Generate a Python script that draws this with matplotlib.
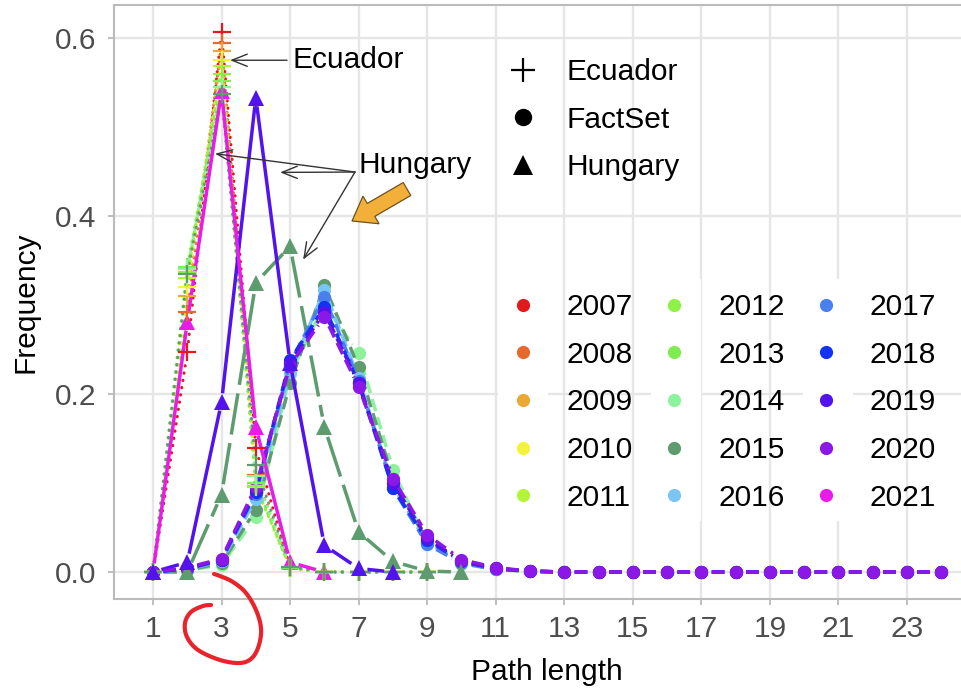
import numpy as np
import matplotlib
matplotlib.use("Agg")
import matplotlib.pyplot as plt
from matplotlib.lines import Line2D
from matplotlib.patches import Rectangle, FancyArrow
from matplotlib.transforms import IdentityTransform

# ---------------- data ----------------
years = list(range(2007, 2022))
year_colors = ['#E3191C', '#E5692D', '#EAA935', '#F3F33B', '#B3F43B',
               '#8DF243', '#7FED4F', '#8CF29B', '#5E9B6E', '#79C6F5',
               '#4A7FEE', '#1432F3', '#5213EE', '#8B18E6', '#E81CE8']

x_ticks = [1, 3, 5, 7, 9, 11, 13, 15, 17, 19, 21, 23]
x_tick_labels = ['1', '3', '5', '7', '9', '11', '13', '15', '17', '19', '21', '23']
y_ticks = [0.0, 0.2, 0.4, 0.6]
y_tick_labels = ['0.0', '0.2', '0.4', '0.6']

# Ecuador (path length 1..9)
ecu_x = [1, 2, 3, 4, 5, 6, 7, 8, 9]
ecu_2007 = [0.0, 0.247, 0.607, 0.139, 0.004, 0.0, 0.0, 0.0, 0.0]
ecu_2008 = [0.0, 0.292, 0.594, 0.109, 0.004, 0.0, 0.0, 0.0, 0.0]
ecu_2009 = [0.0, 0.310, 0.585, 0.100, 0.004, 0.0, 0.0, 0.0, 0.0]
ecu_2010 = [0.0, 0.320, 0.575, 0.100, 0.004, 0.0, 0.0, 0.0, 0.0]
ecu_2011 = [0.0, 0.330, 0.568, 0.096, 0.005, 0.0, 0.0, 0.0, 0.0]
ecu_2012 = [0.0, 0.337, 0.560, 0.097, 0.005, 0.0, 0.0, 0.0, 0.0]
ecu_2013 = [0.0, 0.343, 0.552, 0.100, 0.005, 0.0, 0.0, 0.0, 0.0]
ecu_2014 = [0.0, 0.340, 0.545, 0.108, 0.006, 0.0, 0.0, 0.0, 0.0]
ecu_2015 = [0.0, 0.335, 0.537, 0.120, 0.006, 0.0, 0.0, 0.0, 0.0]

# FactSet (path length 1..24)
fs_x = list(range(1, 25))
fs_2014 = [0.0, 0.002, 0.008, 0.062, 0.222, 0.300, 0.246, 0.115, 0.033, 0.009, 0.003, 0.001,
           0, 0, 0, 0, 0, 0, 0, 0, 0, 0, 0, 0]
fs_2015 = [0.0, 0.002, 0.010, 0.070, 0.212, 0.322, 0.230, 0.105, 0.034, 0.011, 0.003, 0.001,
           0, 0, 0, 0, 0, 0, 0, 0, 0, 0, 0, 0]
fs_2016 = [0.0, 0.003, 0.012, 0.082, 0.225, 0.317, 0.218, 0.097, 0.032, 0.011, 0.003, 0.001,
           0, 0, 0, 0, 0, 0, 0, 0, 0, 0, 0, 0]
fs_2017 = [0.0, 0.003, 0.013, 0.088, 0.235, 0.309, 0.215, 0.094, 0.031, 0.010, 0.003, 0.001,
           0, 0, 0, 0, 0, 0, 0, 0, 0, 0, 0, 0]
fs_2018 = [0.0, 0.004, 0.014, 0.090, 0.238, 0.298, 0.212, 0.094, 0.036, 0.012, 0.004, 0.001,
           0, 0, 0, 0, 0, 0, 0, 0, 0, 0, 0, 0]
fs_2019 = [0.0, 0.004, 0.014, 0.093, 0.235, 0.292, 0.212, 0.100, 0.038, 0.012, 0.004, 0.001,
           0, 0, 0, 0, 0, 0, 0, 0, 0, 0, 0, 0]
fs_2020 = [0.0, 0.005, 0.015, 0.096, 0.232, 0.287, 0.208, 0.105, 0.042, 0.014, 0.005, 0.001,
           0, 0, 0, 0, 0, 0, 0, 0, 0, 0, 0, 0]

# Hungary
hun_2015_x = [1, 2, 3, 4, 5, 6, 7, 8, 9, 10]
hun_2015 = [0.0, 0.0, 0.087, 0.325, 0.366, 0.163, 0.045, 0.012, 0.001, 0.0]
hun_2019_x = [1, 2, 3, 4, 5, 6, 7, 8]
hun_2019 = [0.0, 0.011, 0.191, 0.533, 0.235, 0.030, 0.004, 0.0]
hun_2021_x = [1, 2, 3, 4, 5, 6]
hun_2021 = [0.0, 0.281, 0.540, 0.163, 0.011, 0.0]

sources = ['Ecuador', 'FactSet', 'Hungary']

# ---------------- tables built from the lists ----------------
ecuador = {2007: ecu_2007, 2008: ecu_2008, 2009: ecu_2009, 2010: ecu_2010, 2011: ecu_2011,
           2012: ecu_2012, 2013: ecu_2013, 2014: ecu_2014, 2015: ecu_2015}
factset = {2014: fs_2014, 2015: fs_2015, 2016: fs_2016, 2017: fs_2017,
           2018: fs_2018, 2019: fs_2019, 2020: fs_2020}
hungary = {2015: (hun_2015_x, hun_2015), 2019: (hun_2019_x, hun_2019),
           2021: (hun_2021_x, hun_2021)}
hungary_ls = {2015: (0, (12.0, 2.5)), 2019: '-', 2021: '-'}

# ---------------- figure ----------------
W, H = 962, 689
DPI = 100
plt.rcParams['font.family'] = ['Liberation Sans', 'DejaVu Sans']
FS = 21.5

fig = plt.figure(figsize=(W / DPI, H / DPI), dpi=DPI)
fig.patch.set_facecolor('white')

X0, X1 = -0.15, 25.15
Y0, Y1 = -0.0304, 0.6374
left_px, right_px = 113.6, 980.6
top_px, bot_px = 4.7, 599.1
ax = fig.add_axes([left_px / W, 1 - bot_px / H, (right_px - left_px) / W, (bot_px - top_px) / H])
ax.set_xlim(X0, X1)
ax.set_ylim(Y0, Y1)
ax.set_facecolor('white')

ax.set_xticks(x_ticks)
ax.set_xticklabels(x_tick_labels)
ax.set_yticks(y_ticks)
ax.set_yticklabels(y_tick_labels)
ax.set_axisbelow(True)
ax.grid(True, color='#E6E6E6', lw=1.7)
for s in ax.spines.values():
    s.set_color('#BBBBBB')
    s.set_linewidth(1.5)
ax.tick_params(axis='both', colors='#B3B3B3', labelcolor='#4D4D4D', labelsize=FS,
               length=4, width=1.2)
ax.tick_params(axis='x', pad=7.5)
ax.tick_params(axis='y', pad=8.2)

ax.set_xlabel('Path length', fontsize=FS, color='black')
ax.xaxis.label.set_va('baseline')
ax.xaxis.set_label_coords(0.5, (bot_px - 680) / (bot_px - top_px))
ax.set_ylabel('Frequency', fontsize=FS, color='black')
ax.yaxis.label.set_rotation_mode('anchor')
ax.yaxis.label.set_va('baseline')
ax.yaxis.set_label_coords((34 - left_px) / (right_px - left_px), 0.5)

fig.canvas.draw()


def gapped(xs, ys, gap=10.5):
    pts = ax.transData.transform(np.column_stack([xs, ys]).astype(float))
    out = []
    for (x0, y0), (x1, y1) in zip(pts[:-1], pts[1:]):
        d = np.hypot(x1 - x0, y1 - y0)
        if d > 2 * gap + 1:
            ux, uy = (x1 - x0) / d, (y1 - y0) / d
            out.append([x0 + ux * gap, y0 + uy * gap])
            out.append([x1 - ux * gap, y1 - uy * gap])
        out.append([np.nan, np.nan])
    arr = ax.transData.inverted().transform(np.array(out))
    return arr[:, 0], arr[:, 1]


color_of = dict(zip(years, year_colors))
z = 3
for yr in years:
    c = color_of[yr]
    if yr in ecuador:
        gx, gy = gapped(ecu_x, ecuador[yr])
        ax.plot(gx, gy, color=c, lw=2.2, ls=(0, (0.1, 2.3)), dash_capstyle='round',
                solid_capstyle='round', zorder=z)
        # crosses sit above the 2021 Hungary marker at the common peak
        ax.plot(ecu_x, ecuador[yr], ls='none', marker='+', ms=13, mew=1.6, color=c,
                zorder=z + 40)
        z += 1
    if yr in factset:
        gx, gy = gapped(fs_x, factset[yr])
        ax.plot(gx, gy, color=c, lw=2.5, ls=(0, (3.6, 1.8)), zorder=z)
        ax.plot(fs_x, factset[yr], ls='none', marker='o', ms=9.5, mew=0, color=c, zorder=z + 0.5)
        z += 1
    if yr in hungary:
        hx, hy = hungary[yr]
        gx, gy = gapped(hx, hy)
        ax.plot(gx, gy, color=c, lw=2.5, ls=hungary_ls[yr], zorder=z)
        mz = z + 0.5 if yr == 2021 else z + 60
        ax.plot(hx, hy, ls='none', marker='^', ms=11, mew=0, color=c, zorder=mz)
        z += 1

# ---------------- annotations ----------------
arrow_kw = dict(arrowstyle='->,head_length=0.55,head_width=0.22', lw=1.0, color='#333333',
                shrinkA=0, shrinkB=0, mutation_scale=20)
ax.annotate('', xy=(3.25, 0.575), xytext=(4.91, 0.575), arrowprops=arrow_kw, zorder=90)
ax.text(5.06, 0.5663, 'Ecuador', fontsize=FS, ha='left', va='baseline', color='black', zorder=90)

hun_from = (6.894, 0.4494)
for tip in [(2.81, 0.470), (4.71, 0.449), (5.38, 0.351)]:
    ax.annotate('', xy=tip, xytext=hun_from, arrowprops=arrow_kw, zorder=90)
ax.text(7.01, 0.4483, 'Hungary', fontsize=FS, ha='left', va='baseline', color='black', zorder=90)


def px(x, y):
    return x, H - y


# orange block arrow (figure pixels)
tx, ty = px(407, 189)
fig.add_artist(FancyArrow(tx, ty, -55, -32, width=15, head_width=32, head_length=22,
                          length_includes_head=True, transform=IdentityTransform(),
                          facecolor='#F2B03A', edgecolor='#6E5220', lw=0.9, zorder=50))


# red hand-drawn circle around "3"
def catmull(pts, n=20):
    pts = np.asarray(pts, float)
    P = np.vstack([pts[0], pts, pts[-1]])
    out = []
    t = np.linspace(0, 1, n, endpoint=False)[:, None]
    for i in range(1, len(P) - 2):
        p0, p1, p2, p3 = P[i - 1], P[i], P[i + 1], P[i + 2]
        out.append(0.5 * ((2 * p1) + (-p0 + p2) * t + (2 * p0 - 5 * p1 + 4 * p2 - p3) * t ** 2
                          + (-p0 + 3 * p1 - 3 * p2 + p3) * t ** 3))
    out.append(pts[-1][None])
    return np.vstack(out)


circle_pts = [(211, 605), (203, 606), (191, 612), (185, 623), (187, 637), (198, 650),
              (220, 660), (240, 663), (252, 658), (259, 645), (261, 628), (256, 610),
              (246, 593), (233, 582), (220, 576), (214, 574)]
cp = catmull([px(a, b) for a, b in circle_pts])
fig.add_artist(Line2D(cp[:, 0], cp[:, 1], transform=IdentityTransform(), color='#E8232B',
                      lw=3.0, solid_capstyle='round', solid_joinstyle='round', zorder=55))

# ---------------- legends ----------------
# white key backgrounds
for cx in (523, 676, 828):
    x0, y0 = px(cx - 25, 521)
    ax.add_patch(Rectangle((x0, y0), 50, 242, transform=IdentityTransform(),
                           facecolor='white', edgecolor='none', zorder=1))
x0, y0 = px(498, 190)
ax.add_patch(Rectangle((x0, y0), 50, 144, transform=IdentityTransform(),
                       facecolor='white', edgecolor='none', zorder=1))

leg_common = dict(frameon=False, borderpad=0, borderaxespad=0, handlelength=1.0,
                  handletextpad=0.97, columnspacing=0.88, labelspacing=0.66, fontsize=FS,
                  loc='upper left', bbox_transform=fig.transFigure)

color_handles = [Line2D([], [], ls='none', marker='o', ms=9.5, mew=0, color=c) for c in year_colors]
leg1 = ax.legend(color_handles, [str(y) for y in years], ncol=3,
                 bbox_to_anchor=((523 - 15) / W, 1 - 293 / H), **leg_common)
leg1.set_zorder(95)
ax.add_artist(leg1)

shape_handles = [Line2D([], [], ls='none', marker='+', ms=17, mew=1.6, color='black'),
                 Line2D([], [], ls='none', marker='o', ms=12.5, mew=0, color='black'),
                 Line2D([], [], ls='none', marker='^', ms=14, mew=0, color='black')]
leg2 = ax.legend(shape_handles, sources, ncol=1,
                 bbox_to_anchor=((523 - 15) / W, 1 - 58 / H), **leg_common)
leg2.set_zorder(95)

fig.savefig('out.png', dpi=DPI, facecolor='white')
